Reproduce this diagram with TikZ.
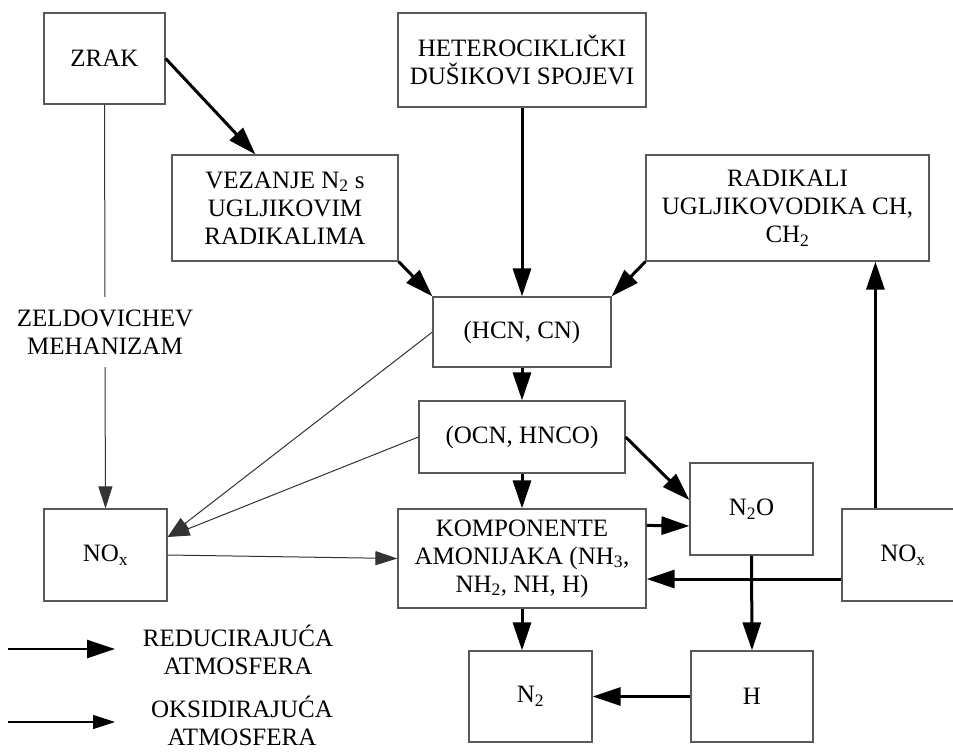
\documentclass[tikz,border=0pt]{standalone}
\usepackage{fontspec}
\setmainfont{Liberation Serif}
\usetikzlibrary{arrows.meta,calc}
\begin{document}
\begin{tikzpicture}[x=1pt,y=-1pt,
  font=\fontsize{25}{28}\selectfont,
  box/.style={draw=black!65,line width=1.2pt,inner sep=0pt,align=center},
  plain/.style={inner sep=0pt,align=center},
  thick arrow/.style={line width=3pt,-{Triangle[length=28pt,width=18pt]}},
  thin arrow/.style={line width=1pt,-{Triangle[length=22pt,width=14pt]}},
  thin line/.style={line width=1pt,draw=black!80}]
\useasboundingbox[fill=white] (0,0) rectangle (953,753);
% boxes
\node[box,minimum width=121pt,minimum height=91pt] (zrak) at (104.5,58.5) {ZRAK};
\node[box,minimum width=248pt,minimum height=94pt] (het) at (522,60) {HETEROCIKLIČKI\\DUŠIKOVI SPOJEVI};
\node[box,minimum width=226pt,minimum height=106pt] (vez) at (285,208) {VEZANJE N\textsubscript{2} s\\UGLJIKOVIM\\RADIKALIMA};
\node[box,minimum width=283pt,minimum height=106pt] (rad) at (787.5,208) {RADIKALI\\UGLJIKOVODIKA CH,\\CH\textsubscript{2}};
\node[box,minimum width=178pt,minimum height=70pt] (hcn) at (522,332) {(HCN, CN)};
\node[box,minimum width=206pt,minimum height=72pt] (ocn) at (522,437) {(OCN, HNCO)};
\node[box,minimum width=123pt,minimum height=92pt] (noxl) at (105.5,555) {NO\textsubscript{x}};
\node[box,minimum width=248pt,minimum height=99pt] (komp) at (522,558.5) {KOMPONENTE\\AMONIJAKA (NH\textsubscript{3},\\NH\textsubscript{2}, NH, H)};
\node[box,minimum width=123pt,minimum height=92pt] (ntwoo) at (751.5,509) {N\textsubscript{2}O};
\node[box,minimum width=122pt,minimum height=92pt] (noxr) at (903,555) {NO\textsubscript{x}};
\node[box,minimum width=123pt,minimum height=91pt] (ntwo) at (530.5,696.5) {N\textsubscript{2}};
\node[box,minimum width=122pt,minimum height=91pt] (h) at (752,696.5) {H};
\node[plain,minimum height=70pt] (zel) at (105,332) {ZELDOVICHEV\\MEHANIZAM};
% thick arrows
\draw[thick arrow] (zrak.east) -- ($(vez.north west)+(84,0)$);
\draw[thick arrow] (het.south) -- (hcn.north);
\draw[thick arrow] (vez.south east) -- (hcn.north west);
\draw[thick arrow] (rad.south west) -- (hcn.north east);
\draw[thick arrow] (hcn.south) -- (ocn.north);
\draw[thick arrow] (ocn.south) -- (komp.north);
\draw[thick arrow] (ocn.east) -- ($(ntwoo.west)+(0,-9)$);
\draw[thick arrow] ($(komp.north east)+(0,17)$) -- ($(ntwoo.west)+(0,17)$);
\draw[thick arrow] (ntwoo.south) -- (h.north);
\draw[thick arrow] ($(noxr.west)+(0,24)$) -- ($(komp.east)+(0,20.5)$);
\draw[thick arrow] ($(noxr.north west)+(34,0)$) -- ($(rad.south west)+(230,0)$);
\draw[thick arrow] (komp.south) -- (komp.south |- ntwo.north);
\draw[thick arrow] (h.west) -- (ntwo.east);
% thin arrows
\draw[thin line] (zrak.south) -- (zel.north);
\draw[thin line,thin arrow] (zel.south) -- (noxl.north);
\draw[thin line,thin arrow] (hcn.west) -- ($(noxl.east)+(0,-18)$);
\draw[thin line,thin arrow] (ocn.west) -- ($(noxl.east)+(0,-18)$);
\draw[thin line,thin arrow] (noxl.east) -- (komp.west);
% legend
\coordinate (la1) at (8,649);
\coordinate (la2) at (115,649);
\coordinate (lb1) at (8,722);
\coordinate (lb2) at (115,722);
\draw[thick arrow,line width=2.5pt] (la1) -- (la2);
\draw[thin arrow,line width=1.3pt] (lb1) -- (lb2);
\node[plain] (lred) at (238,650) {REDUCIRAJUĆA\\ATMOSFERA};
\node[plain] (loks) at (242,721) {OKSIDIRAJUĆA\\ATMOSFERA};
\end{tikzpicture}
\end{document}
